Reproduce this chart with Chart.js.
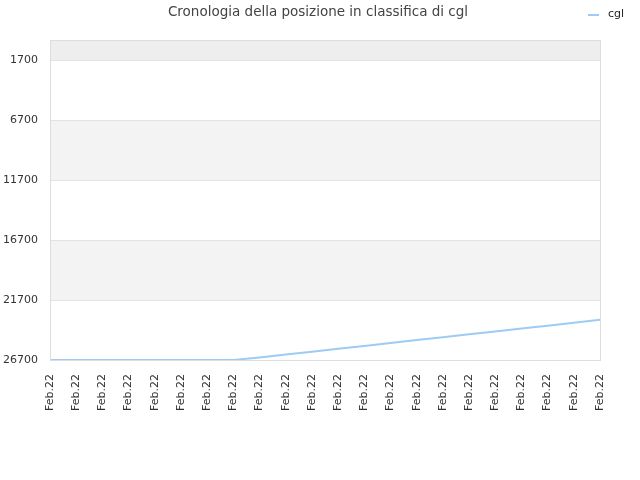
<!DOCTYPE html>
<html>
<head>
<meta charset="utf-8">
<script src="https://cdn.jsdelivr.net/npm/chart.js@4/dist/chart.umd.min.js"></script>
<style>
html,body{margin:0;padding:0;background:#fff;}
#wrap{width:640px;height:480px;}
</style>
</head>
<body>
<div id="wrap"><canvas id="c" width="640" height="480"></canvas></div>
<script>
const titleText = "Cronologia della posizione in classifica di cgl";
const seriesName = "cgl";
const categories = ["Feb.22","Feb.22","Feb.22","Feb.22","Feb.22","Feb.22","Feb.22","Feb.22","Feb.22","Feb.22","Feb.22","Feb.22","Feb.22","Feb.22","Feb.22","Feb.22","Feb.22","Feb.22","Feb.22","Feb.22","Feb.22","Feb.22"];
const rankValues = [26700,26700,26700,26700,26700,26700,26700,26700,26490,26250,26010,25770,25530,25280,25040,24800,24560,24320,24080,23840,23590,23350];
const yTickValues = [1700,6700,11700,16700,21700,26700];
const yMin = 33;
const yMax = 26700;

const bandsPlugin = {
  id: 'bands',
  beforeDraw(chart) {
    const {ctx, chartArea: a, scales: {y}} = chart;
    ctx.save();
    const pTop = y.getPixelForValue(yMin);
    const p0 = y.getPixelForValue(yTickValues[0]);
    ctx.fillStyle = '#eeeeee';
    ctx.fillRect(a.left, pTop, a.right - a.left, p0 - pTop);
    ctx.fillStyle = '#f3f3f3';
    for (let i = 1; i < yTickValues.length - 1; i += 2) {
      const p1 = y.getPixelForValue(yTickValues[i]);
      const p2 = y.getPixelForValue(yTickValues[i + 1]);
      ctx.fillRect(a.left, p1, a.right - a.left, p2 - p1);
    }
    ctx.restore();
  },
  afterDraw(chart) {
    const {ctx, chartArea: a} = chart;
    ctx.save();
    ctx.strokeStyle = '#dddddd';
    ctx.lineWidth = 1;
    ctx.strokeRect(a.left + 0.5, a.top + 0.5, a.right - a.left, a.bottom - a.top);
    ctx.fillStyle = '#444444';
    ctx.font = '13.5px "DejaVu Sans", sans-serif';
    ctx.textAlign = 'center';
    ctx.textBaseline = 'middle';
    ctx.fillText(titleText, 318, 12);
    ctx.strokeStyle = chart.data.datasets[0].borderColor;
    ctx.lineWidth = 2;
    ctx.beginPath();
    ctx.moveTo(588, 15);
    ctx.lineTo(599, 15);
    ctx.stroke();
    ctx.fillStyle = '#222222';
    ctx.font = '11px "DejaVu Sans", sans-serif';
    ctx.textAlign = 'left';
    ctx.fillText(chart.data.datasets[0].label, 608, 14);
    ctx.restore();
  }
};

new Chart(document.getElementById('c'), {
  type: 'line',
  data: {
    labels: categories,
    datasets: [{
      label: seriesName,
      data: rankValues,
      borderColor: '#9ecbf5',
      backgroundColor: '#9ecbf5',
      borderWidth: 2,
      pointRadius: 0,
      tension: 0,
      fill: false
    }]
  },
  options: {
    responsive: false,
    animation: false,
    devicePixelRatio: 1,
    layout: {padding: {top: 40, right: 40, left: 0, bottom: 0}},
    plugins: {
      legend: {display: false},
      title: {display: false},
      tooltip: {enabled: false}
    },
    scales: {
      x: {
        offset: false,
        grid: {display: false},
        border: {display: false},
        ticks: {
          autoSkip: false,
          maxRotation: 90,
          minRotation: 90,
          color: '#333333',
          font: {family: '"DejaVu Sans", sans-serif', size: 11},
          padding: 6
        },
        afterFit(scale) { scale.height = 120; }
      },
      y: {
        reverse: true,
        min: yMin,
        max: yMax,
        afterBuildTicks(scale) { scale.ticks = yTickValues.map(v => ({value: v})); },
        grid: {color: '#e2e2e2', drawTicks: false},
        border: {display: false},
        ticks: {
          color: '#333333',
          font: {family: '"DejaVu Sans", sans-serif', size: 11},
          padding: 12,
          callback: v => String(v)
        },
        afterFit(scale) { scale.width = 50; }
      }
    }
  },
  plugins: [bandsPlugin]
});
</script>
</body>
</html>
